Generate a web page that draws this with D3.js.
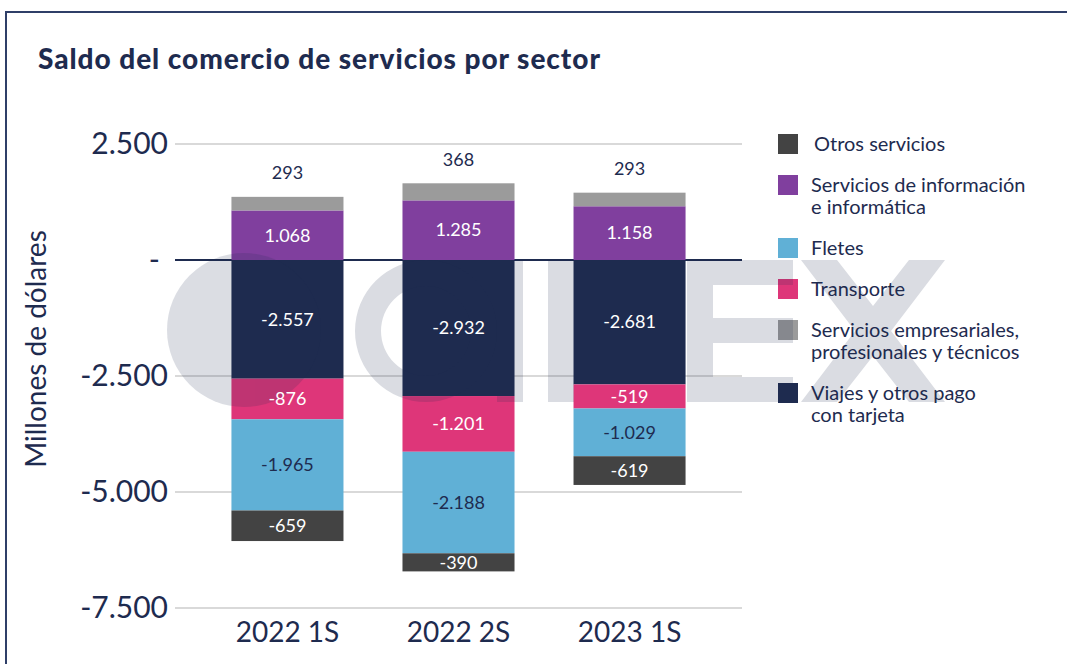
<!DOCTYPE html>
<html>
<head>
<meta charset="utf-8">
<script src="https://cdn.jsdelivr.net/npm/d3@7"></script>
<style>
  body { margin: 0; background: #fff; }
  svg { display: block; font-family: Lato, "Open Sans", sans-serif; }
</style>
</head>
<body>
<div id="chart"></div>
<script>
// data
var categories = ["2022 1S", "2022 2S", "2023 1S"];
var informacion = [1068, 1285, 1158];
var empresariales = [293, 368, 293];
var viajes = [-2557, -2932, -2681];
var transporte = [-876, -1201, -519];
var fletes = [-1965, -2188, -1029];
var otros = [-659, -390, -619];
var y_ticks = [2500, 0, -2500, -5000, -7500];

var series_keys = ["informacion", "empresariales", "viajes", "transporte", "fletes", "otros"];
var legend_keys = ["otros", "informacion", "fletes", "transporte", "empresariales", "viajes"];
var legend_labels = [
  ["Otros servicios"],
  ["Servicios de información", "e informática"],
  ["Fletes"],
  ["Transporte"],
  ["Servicios empresariales,", "profesionales y técnicos"],
  ["Viajes y otros pago", "con tarjeta"]
];

var navy = "#1e2b4f";
var colors = {
  otros: "#434343",
  informacion: "#803f9e",
  fletes: "#60b0d6",
  transporte: "#de3679",
  empresariales: "#9b9b9b",
  viajes: "#1e2b4f"
};

var rows = categories.map(function(c, i){
  return {
    cat: c,
    informacion: informacion[i],
    empresariales: empresariales[i],
    viajes: viajes[i],
    transporte: transporte[i],
    fletes: fletes[i],
    otros: otros[i]
  };
});

var es = d3.formatLocale({decimal: ",", thousands: ".", grouping: [3], currency: ["", ""], minus: "-"});
var fmt = es.format(",.0f");

var width = 1067, height = 664;
var chart = { left: 175, right: 742, top: 144, bottom: 608 };

var svg = d3.select("#chart").append("svg")
  .attr("width", width)
  .attr("height", height);

// frame
svg.append("path")
  .attr("d", "M6,664 L6,12 L1067,12")
  .attr("fill", "none")
  .attr("stroke", "#2f3f68")
  .attr("stroke-width", 2);

// title
svg.append("text")
  .attr("x", 38)
  .attr("y", 69)
  .attr("font-size", 28)
  .attr("font-weight", 900)
  .attr("letter-spacing", 0.95)
  .attr("fill", navy)
  .text("Saldo del comercio de servicios por sector");

var x = d3.scaleBand()
  .domain(categories)
  .range([chart.left, chart.right])
  .paddingInner(0.345)
  .paddingOuter(0.33);

var y = d3.scaleLinear()
  .domain([-7500, 2500])
  .range([chart.bottom, chart.top]);

// grid lines
svg.append("g").selectAll("line")
  .data(y_ticks.filter(function(d){ return d !== 0; }))
  .enter().append("line")
  .attr("x1", chart.left)
  .attr("x2", chart.right)
  .attr("y1", function(d){ return y(d); })
  .attr("y2", function(d){ return y(d); })
  .attr("stroke", "#d9d9d9")
  .attr("stroke-width", 2);

// zero line
svg.append("line")
  .attr("x1", chart.left)
  .attr("x2", chart.right)
  .attr("y1", y(0))
  .attr("y2", y(0))
  .attr("stroke", navy)
  .attr("stroke-width", 2);

// bars
var stacked = d3.stack()
  .keys(series_keys)
  .offset(d3.stackOffsetDiverging)(rows);

var layers = svg.append("g").selectAll("g")
  .data(stacked)
  .enter().append("g")
  .attr("fill", function(d){ return colors[d.key]; });

layers.selectAll("rect")
  .data(function(d){ return d; })
  .enter().append("rect")
  .attr("x", function(d){ return x(d.data.cat); })
  .attr("width", x.bandwidth())
  .attr("y", function(d){ return y(Math.max(d[0], d[1])); })
  .attr("height", function(d){ return Math.abs(y(d[0]) - y(d[1])); });

// legend squares (under the watermark)
var legend_top = [];
var ly = 134;
legend_labels.forEach(function(lines){
  legend_top.push(ly);
  ly += 41 + (lines.length - 1) * 22;
});

var legend = svg.append("g");
legend.selectAll("rect")
  .data(legend_keys)
  .enter().append("rect")
  .attr("x", 778)
  .attr("y", function(d, i){ return legend_top[i]; })
  .attr("width", 20)
  .attr("height", 20)
  .attr("fill", function(d){ return colors[d]; });

// watermark
var mark = svg.append("g")
  .attr("opacity", 0.16)
  .attr("fill", navy);

mark.append("circle").attr("cx", 244).attr("cy", 330).attr("r", 77);
mark.append("path")
  .attr("transform", "translate(426,331)")
  .attr("d", d3.arc()({innerRadius: 45, outerRadius: 71, startAngle: 0, endAngle: 2 * Math.PI}));
mark.append("rect").attr("x", 497).attr("y", 260).attr("width", 26).attr("height", 142);
mark.append("rect").attr("x", 548).attr("y", 260).attr("width", 26).attr("height", 142);
mark.append("path")
  .attr("d", "M687,260 H793 V285 H713 V318 H793 V343 H713 V377 H793 V402 H687 Z");
mark.append("path")
  .attr("d", "M801,260 H837 L873,306 L909,260 H945 L891,331 L945,402 H909 L873,356 L837,402 H801 L855,331 Z");

// value labels inside the segments
var labels = svg.append("g")
  .attr("font-size", 18)
  .attr("text-anchor", "middle");

stacked.forEach(function(layer){
  labels.selectAll("text.l-" + layer.key)
    .data(layer)
    .enter().append("text")
    .attr("class", "l-" + layer.key)
    .attr("x", function(d){ return x(d.data.cat) + x.bandwidth() / 2; })
    .attr("y", function(d){
      if(layer.key === "empresariales") return y(d[1]) - 24;
      return (y(d[0]) + y(d[1])) / 2;
    })
    .attr("dy", "0.35em")
    .attr("fill", function(){
      if(layer.key === "empresariales" || layer.key === "fletes") return navy;
      return "#fff";
    })
    .text(function(d){ return fmt(d.data[layer.key]); });
});

// y axis
var y_axis = svg.append("g")
  .attr("transform", "translate(" + chart.left + ",0)")
  .call(d3.axisLeft(y)
    .tickValues(y_ticks)
    .tickSize(0)
    .tickPadding(7)
    .tickFormat(function(d){ return d === 0 ? "-" : fmt(d); }));

y_axis.select(".domain").remove();
y_axis.selectAll("text")
  .attr("font-family", "Lato, sans-serif")
  .attr("font-size", 30)
  .attr("fill", navy)
  .attr("x", function(d){ return d === 0 ? -15 : -7; });

// x axis
var x_axis = svg.append("g")
  .attr("transform", "translate(0," + chart.bottom + ")")
  .call(d3.axisBottom(x).tickSize(0).tickPadding(14));

x_axis.select(".domain").remove();
x_axis.selectAll("text")
  .attr("font-family", "Lato, sans-serif")
  .attr("font-size", 28)
  .attr("fill", navy);

// y title
svg.append("text")
  .attr("transform", "translate(46,349) rotate(-90)")
  .attr("text-anchor", "middle")
  .attr("font-size", 28)
  .attr("fill", navy)
  .text("Millones de dólares");

// legend text
legend_labels.forEach(function(lines, i){
  var t = legend.append("text")
    .attr("x", i === 0 ? 814 : 811)
    .attr("y", legend_top[i] + 10)
    .attr("font-size", 20)
    .attr("fill", navy);
  t.selectAll("tspan")
    .data(lines)
    .enter().append("tspan")
    .attr("x", i === 0 ? 814 : 811)
    .attr("dy", function(d, j){ return j === 0 ? "0.35em" : 21.5; })
    .text(function(d){ return d; });
});
</script>
</body>
</html>
